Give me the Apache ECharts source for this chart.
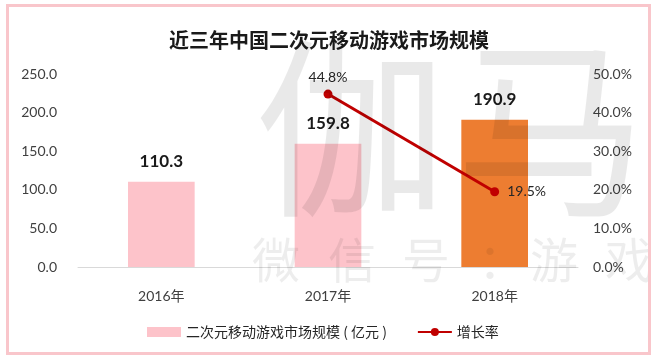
<!DOCTYPE html>
<html>
<head>
<meta charset="utf-8">
<script src="https://cdn.jsdelivr.net/npm/echarts@6/dist/echarts.min.js"></script>
<style>
html,body{margin:0;padding:0;background:#fff;}
#chart{width:658px;height:361px;}
</style>
</head>
<body>
<div id="chart"></div>
<script>
var categories = ['2016年', '2017年', '2018年'];
var marketSize = [110.3, 159.8, 190.9];
var growthRate = ['-', 44.8, 19.5];
var leftTicks = [0, 250, 50];
var rightTicks = [0, 50, 10];
var seriesNames = ['二次元移动游戏市场规模（亿元）', '增长率'];
var titleText = '近三年中国二次元移动游戏市场规模';
var watermarkBig = ['伽', '马'];
var watermarkRow = ['微', '信', '号', '：', '游', '戏'];

var FONT = 'Lato, "Noto Sans CJK SC", sans-serif';
var CJK = '"Noto Sans CJK SC", sans-serif';
var pink = '#FDC3CA';
var orange = '#ED7D31';
var red = '#C00000';

var chart = echarts.init(document.getElementById('chart'));
var barData = marketSize.map(function (v, i) {
  return { value: v, itemStyle: { color: i === 2 ? orange : pink } };
});
var lineData = growthRate.map(function (v, i) {
  if (i === 2) return { value: v, label: { position: 'right', distance: 8 } };
  return v;
});

var wm = [];
var bigX = [255, 455];
watermarkBig.forEach(function (c, i) {
  wm.push({ type: 'text', silent: true, z: 50, left: bigX[i], top: 32,
    style: { text: c, font: '192px ' + CJK, fill: 'rgba(0,0,0,0.085)' } });
});
var rowX = [252, 328, 402, 478, 530, 605];
watermarkRow.forEach(function (c, i) {
  wm.push({ type: 'text', silent: true, z: 50, left: rowX[i], top: 236,
    style: { text: c, font: '48px ' + CJK, fill: 'rgba(0,0,0,0.07)' } });
});

chart.setOption({
  animation: false,
  backgroundColor: '#fff',
  textStyle: { fontFamily: FONT },
  title: {
    text: titleText,
    left: 'center',
    top: 25,
    textStyle: { fontSize: 20, fontWeight: 'bold', color: '#1a1a1a', fontFamily: CJK }
  },
  legend: {
    left: 142,
    top: 320,
    itemGap: 30,
    itemWidth: 34,
    itemHeight: 10,
    textStyle: { fontSize: 14, color: '#262626', fontFamily: CJK },
    formatter: function (name) {
      return name.replace('（', ' ( ').replace('）', ' )');
    },
    data: [
      { name: seriesNames[0], icon: 'rect', itemStyle: { color: pink } },
      { name: seriesNames[1] }
    ]
  },
  grid: { left: 78, right: 80, top: 74, bottom: 94 },
  xAxis: {
    type: 'category',
    data: categories,
    axisLine: { lineStyle: { color: '#D9D9D9', width: 1 } },
    axisTick: { show: false },
    axisLabel: { color: '#404040', fontSize: 14, margin: 22, fontFamily: FONT }
  },
  yAxis: [
    {
      type: 'value', min: leftTicks[0], max: leftTicks[1], interval: leftTicks[2],
      splitLine: { show: false },
      axisLine: { show: false }, axisTick: { show: false },
      axisLabel: { color: '#404040', fontSize: 14, margin: 21, fontFamily: FONT,
        formatter: function (v) { return v.toFixed(1); } }
    },
    {
      type: 'value', min: rightTicks[0], max: rightTicks[1], interval: rightTicks[2],
      splitLine: { show: false },
      axisLine: { show: false }, axisTick: { show: false },
      axisLabel: { color: '#404040', fontSize: 14, margin: 15, fontFamily: FONT,
        formatter: function (v) { return v.toFixed(1) + '%'; } }
    }
  ],
  series: [
    {
      name: seriesNames[0],
      type: 'bar',
      barWidth: '40%',
      itemStyle: { color: pink },
      data: barData,
      z: 2,
      label: {
        show: true, position: 'top', distance: 12,
        fontSize: 17, fontWeight: 'bold', color: '#1a1a1a', fontFamily: FONT,
        formatter: function (p) { return p.value.toFixed(1); }
      }
    },
    {
      name: seriesNames[1],
      type: 'line',
      yAxisIndex: 1,
      data: lineData,
      symbol: 'circle',
      symbolSize: 9,
      z: 5,
      itemStyle: { color: red },
      lineStyle: { color: red, width: 3 },
      label: {
        show: true, fontSize: 14, color: '#262626', fontFamily: FONT,
        formatter: function (p) { return p.value.toFixed(1) + '%'; },
        position: 'top', distance: 5
      }
    }
  ],
  graphic: [
    {
      type: 'rect', silent: true, z: 100,
      shape: { x: 7.5, y: 5.5, width: 642, height: 348 },
      style: { fill: 'none', stroke: '#F9C6CB', lineWidth: 3 }
    }
  ].concat(wm)
});
</script>
</body>
</html>
